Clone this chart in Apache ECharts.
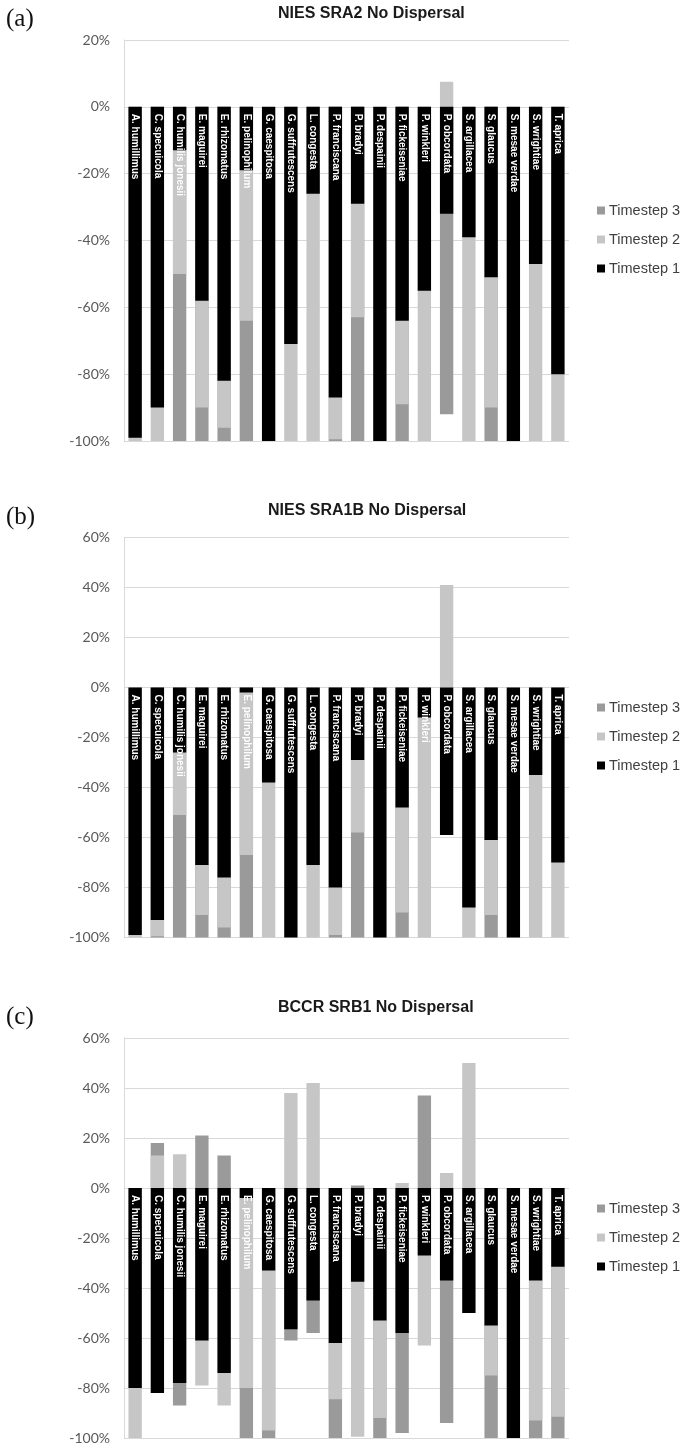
<!DOCTYPE html>
<html>
<head>
<meta charset="utf-8">
<script src="https://cdn.jsdelivr.net/npm/echarts@6/dist/echarts.min.js"></script>
<style>
html,body{margin:0;padding:0;background:#fff;}
#chart{width:681px;height:1447px;}
</style>
</head>
<body>
<div id="chart"></div>
<script>
const categories = ['A. humillimus','C. specuicola','C. humilis jonesii','E. maguirei','E. rhizomatus','E. pelinophilum','G. caespitosa','G. suffrutescens','L. congesta','P. franciscana','P. bradyi','P. despainii','P. fickeiseniae','P. winkleri','P. obcordata','S. argillacea','S. glaucus','S. mesae verdae','S. wrightiae','T. aprica'];
const seriesNames = ['Timestep 3','Timestep 2','Timestep 1'];
const panelTitles = ['NIES SRA2 No Dispersal','NIES SRA1B No Dispersal','BCCR SRB1 No Dispersal'];
const panelLetters = ['(a)','(b)','(c)'];
const yMin = [-100,-100,-100];
const yMax = [20,60,60];
const yStep = 20;

// values are the cumulative change (%) reached at each timestep
const sra2_t1 = [-99,-90,-13,-58,-82,-19,-100,-71,-26,-87,-29,-100,-64,-55,-32,-39,-51,-100,-47,-80];
const sra2_t2 = [-100,-100,-50,-90,-96,-64,null,-100,-100,-99.5,-63,null,-89,-100,7.5,-100,-90,null,-100,-100];
const sra2_t3 = [null,null,-100,-100,-100,-100,null,null,null,-100,-100,null,-100,null,-92,null,-100,null,null,null];

const sra1b_t1 = [-99,-93,-26,-71,-76,-2,-38,-100,-71,-80,-29,-100,-48,-12,-59,-88,-61,-100,-35,-70];
const sra1b_t2 = [-100,-99.5,-51,-91,-96,-67,-100,null,-100,-99,-58,null,-90,-100,41,-100,-91,null,-100,-100];
const sra1b_t3 = [null,-100,-100,-100,-100,-100,null,null,null,-100,-100,null,-100,null,null,null,-100,null,null,null];

const srb1_t1 = [-80,-82,-78,-61,-74,-4,-33,-56.5,-45,-62,-37.5,-53,-58,-27,-37,-50,-55,-100,-37,-31.5];
const srb1_t2 = [-100,13,13.5,-79,-87,-80,-97,38,42,-84.5,-99.5,-92,2,-63,6,50,-75,null,-93,-91.5];
const srb1_t3 = [null,18,-87,21,13,-100,-100,-61,-58,-100,1,-100,-98,37,-94,null,-100,null,-100,-100];

const panels = [
  [sra2_t3, sra2_t2, sra2_t1],
  [sra1b_t3, sra1b_t2, sra1b_t1],
  [srb1_t3, srb1_t2, srb1_t1]
];
const colors = ['#9a9a9a','#c6c6c6','#000000'];

const gridTops = [40, 537.5, 1038];
const gridHeight = [401, 400, 400];
const titleLeft = [278, 268, 278];
const titleTop = [6, 503, 1000];
const letterTop = [7, 505, 1005];
const legendTop = [203, 700, 1201];

const chart = echarts.init(document.getElementById('chart'), null, {renderer:'canvas'});

const option = {
  animation: false,
  backgroundColor: '#fff',
  title: [],
  legend: [],
  grid: [],
  xAxis: [],
  yAxis: [],
  series: []
};

for (let p = 0; p < 3; p++) {
  // lift the category axis from the grid bottom up to the y = 0 line of the value axis
  const zeroLift = gridHeight[p] * (0 - yMin[p]) / (yMax[p] - yMin[p]);
  option.title.push({
    text: panelTitles[p], left: titleLeft[p], top: titleTop[p], padding: 0,
    textStyle: {fontFamily: 'Arial, Liberation Sans', fontSize: 16, fontWeight: 'bold', color: '#1a1a1a'}
  });
  option.title.push({
    text: panelLetters[p], left: 6, top: letterTop[p], padding: 0,
    textStyle: {fontFamily: 'Liberation Serif, serif', fontSize: 25, fontWeight: 'normal', color: '#111'}
  });
  option.legend.push({
    data: seriesNames, orient: 'vertical', left: 597, top: legendTop[p], padding: 0,
    itemWidth: 8, itemHeight: 8, itemGap: 14, icon: 'rect', selectedMode: false,
    textStyle: {fontFamily: 'Arial, Liberation Sans', fontSize: 14.5, color: '#404040', padding: [0,0,0,-1]}
  });
  option.grid.push({left: 124, width: 445, top: gridTops[p], height: gridHeight[p], containLabel: false, outerBoundsMode: 'none'});
  option.xAxis.push({
    type: 'category', gridIndex: p, data: categories, z: 10,
    position: 'bottom', offset: -zeroLift,
    axisLine: {show: false, onZero: false},
    axisTick: {show: false},
    axisLabel: {interval: 0, rotate: -90, margin: 7, color: '#ffffff', fontFamily: 'Arial, Liberation Sans', fontWeight: 'bold', fontSize: 10}
  });
  option.yAxis.push({
    type: 'value', gridIndex: p, min: yMin[p], max: yMax[p], interval: yStep,
    axisLine: {show: true, lineStyle: {color: '#d9d9d9', width: 1}},
    axisTick: {show: false},
    splitLine: {show: true, lineStyle: {color: '#d9d9d9', width: 1}},
    axisLabel: {formatter: '{value}%', color: '#595959', fontFamily: 'Lato', fontSize: 14, margin: 14}
  });
  for (let s = 0; s < 3; s++) {
    option.series.push({
      name: seriesNames[s], type: 'bar', xAxisIndex: p, yAxisIndex: p,
      data: panels[p][s], barWidth: '60%', barGap: '-100%',
      itemStyle: {color: colors[s]}, z: 2 + s
    });
  }
}

chart.setOption(option);
</script>
</body>
</html>
